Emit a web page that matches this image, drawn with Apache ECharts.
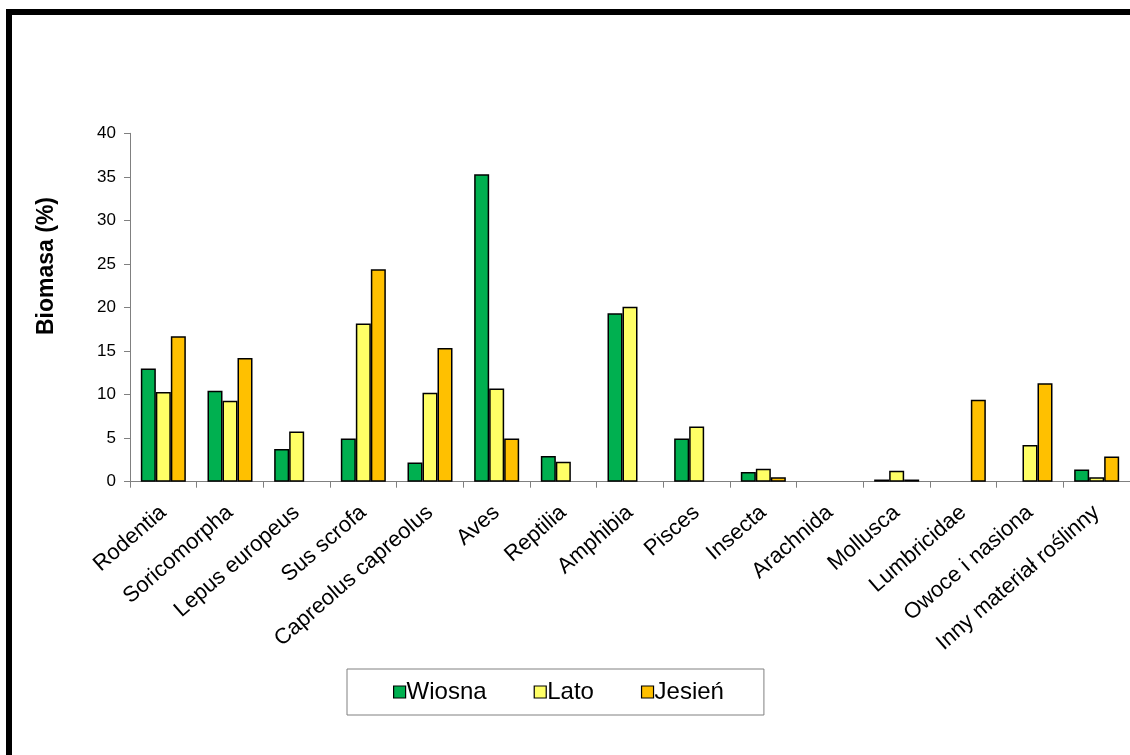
<!DOCTYPE html>
<html>
<head>
<meta charset="utf-8">
<script src="https://cdn.jsdelivr.net/npm/echarts@6/dist/echarts.min.js"></script>
<style>
html,body{margin:0;padding:0;background:#fff;}
#chart{width:1130px;height:755px;}
</style>
</head>
<body>
<div id="chart"></div>
<script>
const categories = ['Rodentia','Soricomorpha','Lepus europeus','Sus scrofa','Capreolus capreolus','Aves','Reptilia','Amphibia','Pisces','Insecta','Arachnida','Mollusca','Lumbricidae','Owoce i nasiona','Inny materiał roślinny'];
const seriesNames = ['Wiosna','Lato','Jesień'];
const wiosna = [13.0, 10.45, 3.75, 4.95, 2.2, 35.3, 2.95, 19.35, 4.95, 1.1, null, 0.25, null, null, 1.4];
const lato   = [10.3, 9.3, 5.75, 18.15, 10.2, 10.7, 2.3, 20.1, 6.35, 1.5, null, 1.25, null, 4.2, 0.5];
const jesien = [16.7, 14.2, null, 24.4, 15.35, 4.95, null, null, null, 0.5, null, 0.25, 9.4, 11.3, 2.9];
const yTicks = [0, 5, 10, 15, 20, 25, 30, 35, 40];
const yName = 'Biomasa (%)';

const colors = ['#00B050', '#FFFF66', '#FFC000'];
const FONT = "'Liberation Sans', Arial, sans-serif";

const chart = echarts.init(document.getElementById('chart'), null, {renderer: 'canvas'});
const dataSets = [wiosna, lato, jesien];

chart.setOption({
  animation: false,
  backgroundColor: '#fff',
  grid: {left: 130, top: 133.3, width: 1005, bottom: 273.3, containLabel: false},
  xAxis: {
    type: 'category',
    data: categories,
    axisLine: {lineStyle: {color: '#808080', width: 1}},
    axisTick: {show: true, length: 6, lineStyle: {color: '#808080'}},
    axisLabel: {interval: 0, rotate: 41, margin: 28, fontSize: 22, color: '#000', fontFamily: FONT}
  },
  yAxis: {
    type: 'value',
    min: yTicks[0], max: yTicks[yTicks.length - 1], interval: 5,
    axisLine: {show: true, lineStyle: {color: '#808080', width: 1}},
    axisTick: {show: true, length: 6, lineStyle: {color: '#808080'}},
    splitLine: {show: false},
    axisLabel: {fontSize: 17, color: '#000', margin: 14, fontFamily: FONT}
  },
  legend: {
    left: 347, top: 669,
    data: seriesNames,
    icon: 'rect',
    itemWidth: 12, itemHeight: 12,
    itemGap: 47,
    padding: [11, 40, 11, 46],
    borderColor: '#808080', borderWidth: 1,
    textStyle: {fontSize: 24, color: '#000', fontFamily: FONT, padding: [0, 0, 0, -4]},
    itemStyle: {borderColor: '#000', borderWidth: 1.2}
  },
  graphic: [
    {type: 'rect', shape: {x: 6, y: 9, width: 1124, height: 6}, style: {fill: '#000'}},
    {type: 'rect', shape: {x: 6, y: 9, width: 6, height: 746}, style: {fill: '#000'}},
    {type: 'text', x: 47, y: 266, rotation: Math.PI / 2,
     style: {text: yName, font: "bold 23px " + FONT, fill: '#000', textAlign: 'center', textVerticalAlign: 'middle'}}
  ],
  series: seriesNames.map((n, i) => ({
    name: n,
    type: 'bar',
    data: dataSets[i],
    barWidth: 15,
    barGap: '0%',
    itemStyle: {color: colors[i], borderColor: '#000', borderWidth: 1.5}
  }))
});
</script>
</body>
</html>
